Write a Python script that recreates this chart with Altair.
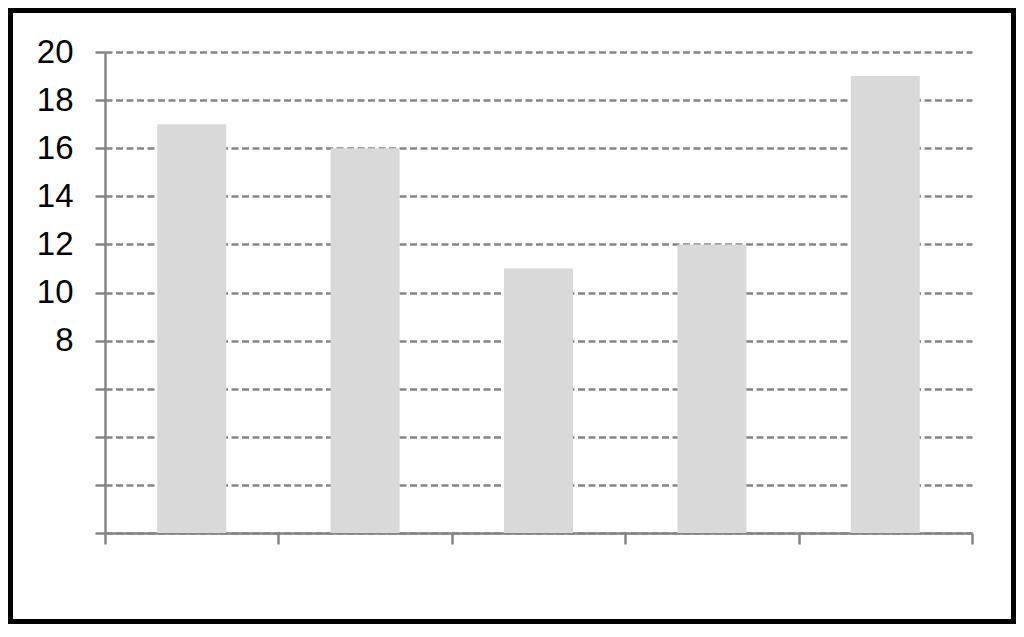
import altair as alt
import pandas as pd

categories = [1, 2, 3, 4, 5]
values = [17, 16, 11, 12, 19]
y_ticks = [0, 2, 4, 6, 8, 10, 12, 14, 16, 18, 20]
x_ticks = [0.5, 1.5, 2.5, 3.5, 4.5, 5.5]

df = pd.DataFrame({"cat": categories, "value": values})

AX = "#858585"

bars = alt.Chart(df).mark_bar(color="#d9d9d9", size=69).encode(
    x=alt.X("cat:Q",
            scale=alt.Scale(domain=[0.5, 5.5], nice=False, zero=False, padding=0),
            axis=alt.Axis(values=x_ticks, labels=False, title=None, grid=False,
                          domainColor=AX, domainWidth=2.5, tickColor=AX,
                          tickWidth=2.5, tickSize=11)),
    y=alt.Y("value:Q",
            scale=alt.Scale(domain=[0, 20], nice=False),
            axis=alt.Axis(values=y_ticks, title=None,
                          labelExpr="datum.value >= 8 ? datum.label : ''",
                          labelFont="Liberation Sans", labelFontSize=33,
                          labelColor="black", labelPadding=22,
                          domainColor=AX, domainWidth=2.5, tickColor=AX,
                          tickWidth=2.5, tickSize=10,
                          grid=True, gridColor=AX, gridWidth=2.5,
                          gridDash=[7, 3.5])),
)

frame = alt.Chart(alt.Data(values=[{"f": 1}])).mark_rect(
    filled=False, stroke="black", strokeWidth=5
).encode(
    x=alt.value(-94.5), x2=alt.value(908.5),
    y=alt.value(-41.5), y2=alt.value(569.5),
)

chart = alt.layer(bars, frame).properties(
    width=867, height=481,
    autosize=alt.AutoSizeParams(type="none"),
    padding={"left": 97, "top": 44, "right": 44, "bottom": 91},
    background="white",
).configure_view(stroke=None)

chart.save("out.html", embed_options={"renderer": "svg", "actions": False})
